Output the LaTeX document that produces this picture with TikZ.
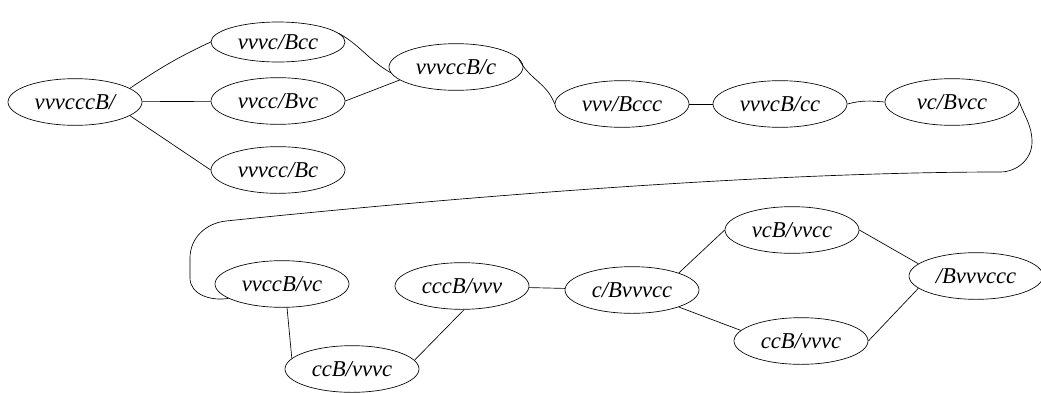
\documentclass[tikz,border=0pt]{standalone}
\usepackage{fontspec}
\setmainfont{Liberation Serif}
\usetikzlibrary{shapes.geometric}
\begin{document}
\begin{tikzpicture}[x=0.75pt,y=-0.75pt,
  st/.style={draw,ellipse,inner sep=0pt,minimum width=100.5pt,minimum height=35pt,
    font=\fontsize{17}{20}\selectfont\itshape,line width=0.5pt},
  cn/.style={line width=0.5pt}]
\useasboundingbox (0,0) rectangle (1041,393);
\node[st] (a) at (75,102) {vvvcccB/};
\node[st,minimum height=30pt] (b1) at (278,42) {vvvc/Bcc};
\node[st] (b2) at (278,101) {vvcc/Bvc};
\node[st] (b3) at (278,170) {vvvcc/Bc};
\node[st] (c) at (456,67) {vvvccB/c};
\node[st] (d) at (622,104) {vvv/Bccc};
\node[st] (e) at (780,104) {vvvcB/cc};
\node[st] (f) at (952,102) {vc/Bvcc};
\node[st] (g) at (282,284) {vvccB/vc};
\node[st] (h) at (352,369) {ccB/vvvc};
\node[st] (i) at (462,286) {cccB/vvv};
\node[st] (j) at (632,290) {c/Bvvvcc};
\node[st] (k) at (792,230) {vcB/vvcc};
\node[st] (l) at (801,341) {ccB/vvvc};
\node[st] (m) at (976,276) {/Bvvvccc};
\coordinate (p0) at (1032,142);
\coordinate (p1) at (1000,172);
\coordinate (p2) at (226,221);
\coordinate (p3) at (190,258);
\coordinate (p4) at (190,278);
\draw[cn] (a.14) to[out=34,in=205] (b1.west);
\draw[cn] (a) -- (b2);
\draw[cn] (a.-14) -- (b3.west);
\draw[cn] (b1.8) to[out=-30,in=150] (c.185);
\draw[cn] (b2.east) -- (c.193);
\draw[cn] (c.8) to[out=-65,in=110] (d.west);
\draw[cn] (d) -- (e);
\draw[cn] (e.east) to[out=15,in=175] (f.west);
\draw[cn] (f.east) to[out=-70,in=90] (p0) to[out=-90,in=0] (p1)
  .. controls (768,172) and (457,197) .. (p2)
  to[out=186,in=90] (p3) -- (p4) to[out=-90,in=190] (g.195);
\draw[cn] (g.282) -- (h.170);
\draw[cn] (h.8) -- (i.275);
\draw[cn] (i) -- (j);
\draw[cn] (j.20) -- (k.west);
\draw[cn] (j.-20) -- (l.170);
\draw[cn] (k.east) -- (m.168);
\draw[cn] (l.east) -- (m.192);
\end{tikzpicture}
\end{document}
